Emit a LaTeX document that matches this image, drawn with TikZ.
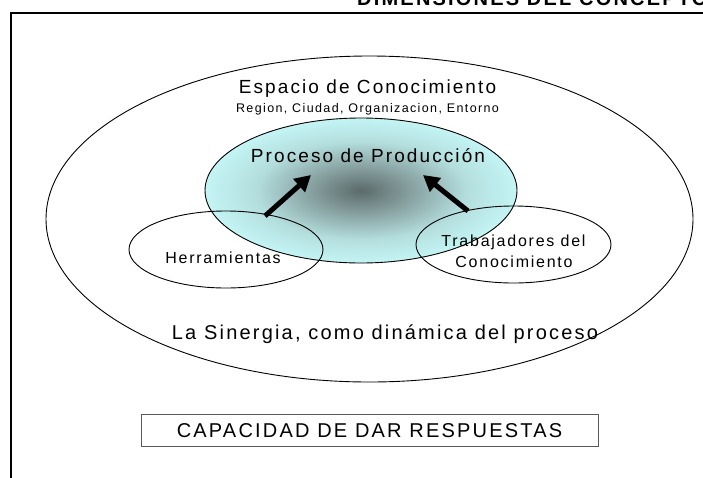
\documentclass[tikz,border=0pt]{standalone}
\usepackage{fontspec}
\usetikzlibrary{arrows.meta}
\newfontfamily\lsfont[LetterSpace=11]{Liberation Sans}
\definecolor{cy}{RGB}{204,255,255}
\definecolor{dk}{RGB}{92,106,106}
\definecolor{mid1}{RGB}{135,160,160}
\definecolor{mid2}{RGB}{180,222,222}
\definecolor{boxgray}{RGB}{90,90,90}
\pgfdeclareradialshading{cyanrad}{\pgfpoint{0bp}{0bp}}{color(0bp)=(dk); color(8bp)=(mid1); color(17bp)=(mid2); color(29bp)=(cy); color(50bp)=(cy)}
\begin{document}
\begin{tikzpicture}[x=1pt,y=-1pt,
  txt/.style={inner sep=0pt, anchor=base},
  ell/.style={draw=black, line width=0.9pt},
  bigarrow/.style={line width=5pt, -{Triangle[length=16pt,width=17pt]}},
  capbox/.style={draw=boxgray, line width=1pt, minimum width=457pt, minimum height=32pt, inner sep=0pt}]
\useasboundingbox (0,0) rectangle (703,477);
\clip (0,0) rectangle (703,477);
% title (cut by the page edge)
\node[txt, anchor=base west, font=\lsfont\bfseries\fontsize{20}{24}\selectfont] (title) at (357,5) {DIMENSIONES DEL CONCEPTO};
% frame
\draw[line width=2pt] (720,13) -- (11,13) -- (11,490);
% outer ellipse
\draw[ell] (369.5,219) ellipse [x radius=323.5pt, y radius=163pt];
% production ellipse
\shade[shading=cyanrad] (361,190.5) ellipse [x radius=156pt, y radius=72.5pt];
\draw[ell] (361,190.5) ellipse [x radius=156pt, y radius=72.5pt];
% small ellipses
\draw[ell] (226,249.5) ellipse [x radius=97pt, y radius=38.5pt];
\draw[ell] (513.5,244.5) ellipse [x radius=97.5pt, y radius=38.5pt];
% texts
\node[txt, font=\lsfont\fontsize{19}{22}\selectfont] (esp) at (367.5,93) {Espacio de Conocimiento};
\node[txt, font=\lsfont\fontsize{12.5}{15}\selectfont] (reg) at (367.5,112) {Region, Ciudad, Organizacion, Entorno};
\node[txt, font=\lsfont\fontsize{19}{22}\selectfont] (proc) at (368,162) {Proceso de Producción};
\node[txt, font=\lsfont\fontsize{16}{19}\selectfont] (herr) at (223,263) {Herramientas};
\node[txt, font=\lsfont\fontsize{16}{19}\selectfont] (trab1) at (513.5,246) {Trabajadores del};
\node[txt, font=\lsfont\fontsize{16}{19}\selectfont] (trab2) at (514,267) {Conocimiento};
\node[txt, font=\lsfont\fontsize{20}{24}\selectfont] (sin) at (385,339) {La Sinergia, como dinámica del proceso};
% arrows
\coordinate (a1s) at (265,216);
\coordinate (a1e) at (311,175);
\coordinate (a2s) at (468,211);
\coordinate (a2e) at (423,175);
\draw[bigarrow] (a1s) -- (a1e);
\draw[bigarrow] (a2s) -- (a2e);
% bottom box
\node[capbox] (cap) at (369.5,430) {};
\node[txt, font=\lsfont\fontsize{20}{24}\selectfont] (captxt) at (369.5,437) {CAPACIDAD DE DAR RESPUESTAS};
\end{tikzpicture}
\end{document}
